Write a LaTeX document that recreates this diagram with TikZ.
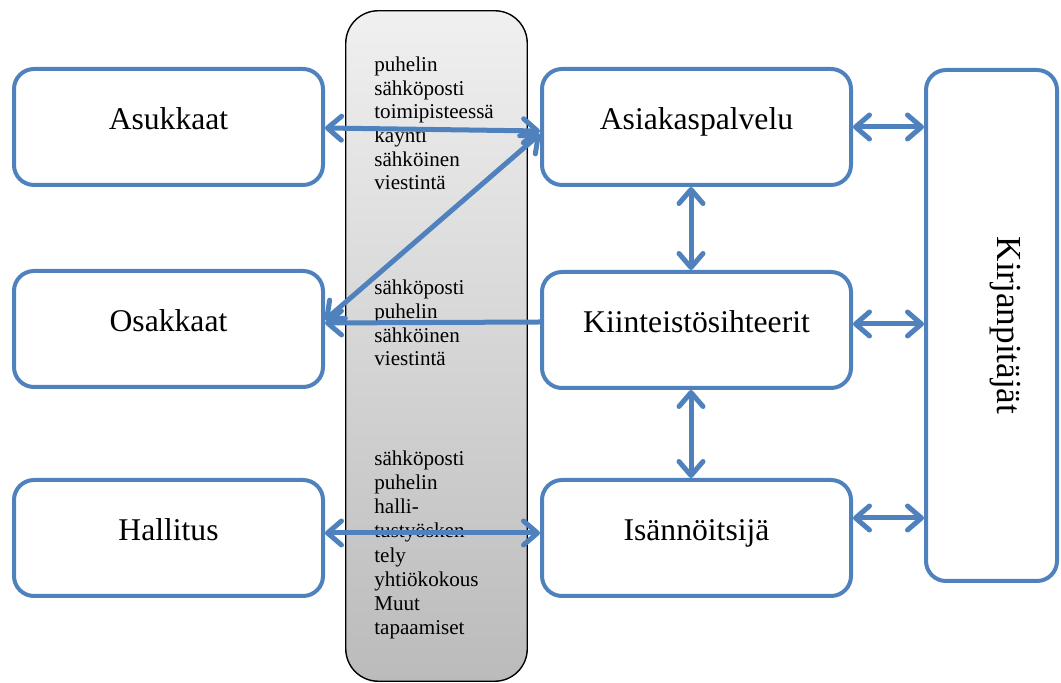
\documentclass[tikz,border=0pt]{standalone}
\usepackage{fontspec}
\setmainfont{Liberation Serif}
\usetikzlibrary{arrows.meta, positioning, calc}

\begin{document}
\begin{tikzpicture}[
    every node/.style={font=\fontsize{18}{22}\selectfont},
    party/.style={draw=boxblue, line width=0.08cm, rounded corners=0.4cm,
        fill=white, minimum width=6.18cm, minimum height=2.32cm,
        text height=0.45cm, text depth=0.33cm},
    link/.style={draw=boxblue, line width=0.1cm,
        >={Straight Barb[length=0.28cm, width=0.48cm, round]}},
    chtext/.style={font=\fontsize{12}{13.5}\selectfont, align=left,
        anchor=base west, inner sep=0pt},  % base = last line
]

\definecolor{boxblue}{HTML}{4F81BD}
\definecolor{chtop}{HTML}{F0F0F0}
\definecolor{chbot}{HTML}{BBBBBB}

\useasboundingbox (0,0) rectangle (21.22,13.66);

% ---------------------------------------------------------------- channel
\node[draw=black, line width=0.8pt, rounded corners=0.65cm,
      top color=chtop, bottom color=chbot,
      minimum width=3.63cm, minimum height=13.41cm] (channel) at (8.73, 6.74) {};

\node[chtext] (chantop) at (7.48, 9.86)
    {puhelin\\sähköposti\\toimipisteessä\\käynti\\sähköinen\\viestintä};
\node[chtext] (chanmid) at (7.48, 6.34)
    {sähköposti\\puhelin\\sähköinen\\viestintä};
\node[chtext, font=\fontsize{12}{13.8}\selectfont] (chanbot) at (7.48, 0.96)
    {sähköposti\\puhelin\\halli-\\tustyösken\\tely\\yhtiökokous\\Muut\\tapaamiset};

% ---------------------------------------------------------------- parties
\node[party] (asukkaat) at (3.37, 11.12) {Asukkaat};
\node[party] (osakkaat) at (3.37, 7.08) {Osakkaat};
\node[party] (hallitus) at (3.37, 2.90) {Hallitus};

\node[party] (asiakas) at (13.93, 11.12) {Asiakaspalvelu};
\node[party] (kiint)   at (13.93, 7.06) {Kiinteistösihteerit};
\node[party] (isann)   at (13.93, 2.90) {Isännöitsijä};

\node[party, minimum width=2.62cm, minimum height=10.22cm] (kirjan) at (19.83, 7.15) {};
\node[rotate=-90, font=\fontsize{20}{24}\selectfont] (kirjanlabel)
    at ([xshift=0.28cm]kirjan.center) {Kirjanpitäjät};

% ---------------------------------------------------------------- arrows
\draw[link, <->] ([yshift=-0.02cm]asukkaat.east) -- ([yshift=-0.08cm]asiakas.west);
\draw[link, <->] ([yshift=-0.14cm]asiakas.west) -- ([yshift=0.18cm]osakkaat.east);
\draw[link, ->]  ([yshift=0.16cm]kiint.west) -- ([yshift=0.12cm]osakkaat.east);
\draw[link, <->] ([yshift=0.10cm]hallitus.east) -- ([yshift=0.10cm]isann.west);

\draw[link, <->] ([xshift=-0.11cm]asiakas.south) -- ([xshift=-0.11cm]kiint.north);
\draw[link, <->] ([xshift=-0.11cm]kiint.south) -- ([xshift=-0.11cm]isann.north);

\draw[link, <->] (asiakas.east) -- (asiakas.east -| kirjan.west);
\draw[link, <->] ([yshift=0.12cm]kiint.east) -- ([yshift=0.12cm]kiint.east -| kirjan.west);
\draw[link, <->] ([yshift=0.40cm]isann.east) -- ([yshift=0.40cm]isann.east -| kirjan.west);

\end{tikzpicture}
\end{document}
